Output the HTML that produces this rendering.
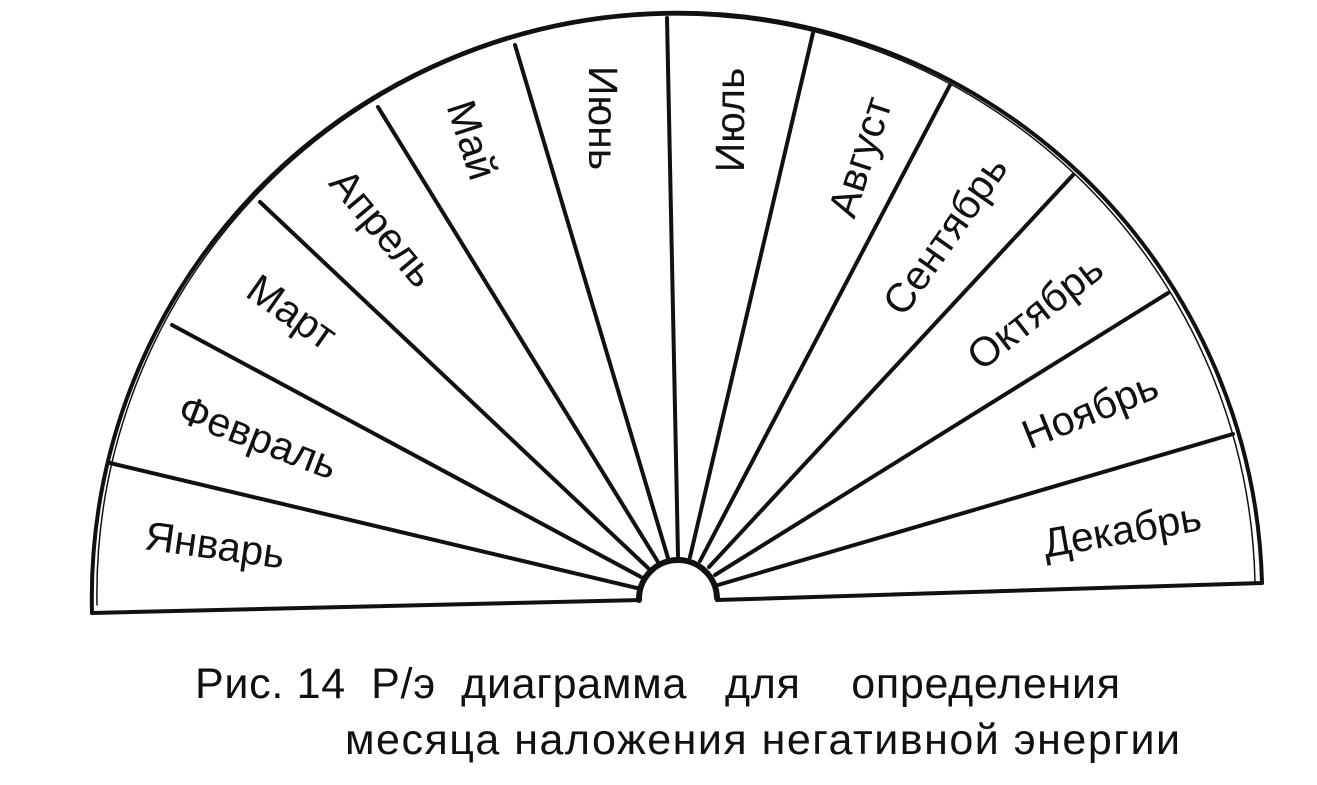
<!DOCTYPE html>
<html><head><meta charset="utf-8"><style>
html,body{margin:0;padding:0;background:#fff;}
svg text{font-family:"Liberation Sans","DejaVu Sans",sans-serif;fill:#111;}
</style></head><body>
<svg width="1317" height="780" viewBox="0 0 1317 780" xmlns="http://www.w3.org/2000/svg">
<g fill="none" stroke="#111" stroke-linecap="round">
<path d="M92,613 A585,585 0 0 1 1262,583" stroke-width="4"/>
<path d="M97,605 A578,578 0 0 1 1255,583" stroke-width="1.5"/>
<path d="M92,613 L640,600 M717,600 L1262,583" stroke-width="4"/>
<path d="M639,600 A39,39 0 0 1 717,598" stroke-width="6"/>
<g stroke-width="4">
<line x1="110" y1="463" x2="637" y2="588"/>
<line x1="172" y1="325" x2="641" y2="577"/>
<line x1="260" y1="202" x2="648" y2="568"/>
<line x1="378" y1="107" x2="658" y2="562"/>
<line x1="515" y1="45" x2="668" y2="558"/>
<line x1="667" y1="18" x2="678" y2="556"/>
<line x1="813" y1="33" x2="690" y2="557"/>
<line x1="950" y1="85" x2="700" y2="561"/>
<line x1="1073" y1="175" x2="709" y2="567"/>
<line x1="1168" y1="293" x2="715" y2="575"/>
<line x1="1233" y1="434" x2="718" y2="585"/>
</g>
</g>
<g font-size="41" text-anchor="middle" dominant-baseline="central">
<text transform="translate(215,545) rotate(8)">Январь</text>
<text transform="translate(258,437) rotate(21)">Февраль</text>
<text transform="translate(292,312) rotate(35)">Март</text>
<text transform="translate(383,228) rotate(50)">Апрель</text>
<text transform="translate(472,140) rotate(72)">Май</text>
<text transform="translate(603,118) rotate(90)">Июнь</text>
<text transform="translate(730,120) rotate(-90)">Июль</text>
<text transform="translate(860,157) rotate(-72)">Август</text>
<text transform="translate(945,235) rotate(-55)">Сентябрь</text>
<text transform="translate(1035,312) rotate(-38)">Октябрь</text>
<text transform="translate(1090,410) rotate(-22)">Ноябрь</text>
<text transform="translate(1122,530) rotate(-10)">Декабрь</text>
</g>
<text x="195" y="698" font-size="43" textLength="925" lengthAdjust="spacing" xml:space="preserve">Рис. 14  Р/э  диаграмма   для    определения</text>
<text x="345" y="754" font-size="43" textLength="835" lengthAdjust="spacing">месяца наложения негативной энергии</text>
</svg>
</body></html>
